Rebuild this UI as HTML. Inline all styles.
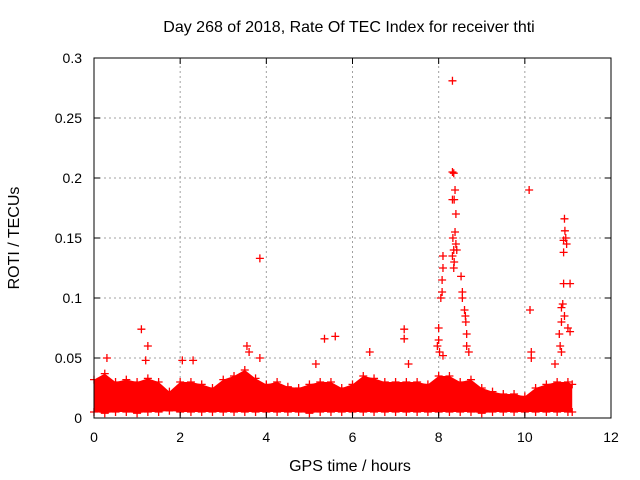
<!DOCTYPE html>
<html><head><meta charset="utf-8"><style>
html,body{margin:0;padding:0;background:#fff;}
svg{display:block;font-family:"Liberation Sans",sans-serif;}
</style></head><body>
<svg id="chart" width="640" height="480">
<text x="349" y="32" font-size="16" text-anchor="middle">Day 268 of 2018, Rate Of TEC Index for receiver thti</text>
<text x="350" y="471" font-size="16" text-anchor="middle">GPS time / hours</text>
<text transform="translate(19,238) rotate(-90)" font-size="16" text-anchor="middle">ROTI / TECUs</text>
<g id="grid"></g><g id="band"></g><g id="marks"></g><g id="axes"></g>
</svg>
<script>
const xTicks=[0,2,4,6,8,10,12];
const yTicks=[0,0.05,0.1,0.15,0.2,0.25,0.3];
const yTickLabels=["0","0.05","0.1","0.15","0.2","0.25","0.3"];
const bandTimes=[0,0.25,0.5,0.75,1,1.25,1.5,1.75,2,2.25,2.5,2.75,3,3.25,3.5,3.75,4,4.25,4.5,4.75,5,5.25,5.5,5.75,6,6.25,6.5,6.75,7,7.25,7.5,7.75,8,8.25,8.5,8.75,9,9.25,9.5,9.75,10,10.25,10.5,10.75,11,11.1];
const bandHigh=[0.032,0.037,0.03,0.032,0.03,0.033,0.03,0.022,0.03,0.03,0.028,0.025,0.032,0.035,0.04,0.033,0.028,0.03,0.026,0.025,0.028,0.03,0.03,0.025,0.028,0.035,0.033,0.03,0.03,0.03,0.03,0.028,0.035,0.035,0.03,0.032,0.025,0.022,0.02,0.02,0.018,0.025,0.028,0.03,0.03,0.028];
const bandLow=[0.005,0.004,0.005,0.005,0.004,0.005,0.005,0.006,0.005,0.005,0.005,0.005,0.005,0.005,0.005,0.005,0.005,0.005,0.005,0.005,0.004,0.005,0.005,0.005,0.005,0.005,0.005,0.005,0.005,0.005,0.005,0.005,0.005,0.005,0.005,0.005,0.004,0.005,0.005,0.005,0.005,0.005,0.005,0.005,0.005,0.005];
const outT=[0.3,1.1,1.25,1.2,2.05,2.3,3.55,3.6,3.85,3.85,5.15,5.35,5.6,6.4,7.2,7.2,7.3,7.97,8.0,8.0,8.05,8.08,8.1,8.1,8.08,8.02,8.1,8.32,8.32,8.35,8.38,8.32,8.36,8.4,8.33,8.38,8.35,8.4,8.32,8.36,8.42,8.35,8.52,8.55,8.55,8.6,8.62,8.63,8.65,8.65,8.7,10.1,10.12,10.15,10.15,10.92,10.93,10.9,10.95,10.97,10.9,10.9,11.05,10.88,10.85,10.85,10.92,10.8,10.82,10.85,11.0,11.05,10.7];
const outV=[0.05,0.074,0.06,0.048,0.048,0.048,0.06,0.055,0.133,0.05,0.045,0.066,0.068,0.055,0.074,0.066,0.045,0.06,0.065,0.075,0.1,0.105,0.125,0.135,0.115,0.055,0.052,0.281,0.205,0.204,0.19,0.182,0.182,0.17,0.15,0.155,0.14,0.145,0.135,0.13,0.14,0.125,0.118,0.105,0.1,0.09,0.085,0.08,0.07,0.06,0.055,0.19,0.09,0.055,0.05,0.166,0.156,0.148,0.15,0.145,0.138,0.112,0.112,0.095,0.092,0.08,0.085,0.07,0.06,0.055,0.075,0.072,0.045];
const X0=94,X1=611,Y0=418,Y1=58;
const sx=t=>X0+(t-0)/(12-0)*(X1-X0);
const sy=v=>Y0-(v-0)/(0.3-0)*(Y0-Y1);
const NS="http://www.w3.org/2000/svg";
function mk(tag,attrs,parent){const e=document.createElementNS(NS,tag);for(const k in attrs)e.setAttribute(k,attrs[k]);parent.appendChild(e);return e;}
const grid=document.getElementById('grid'),axes=document.getElementById('axes'),band=document.getElementById('band'),marks=document.getElementById('marks');
xTicks.forEach((t,i)=>{const x=sx(t);
 if(i>0&&i<xTicks.length-1){const g=mk('line',{x1:x,x2:x,y1:Y0,y2:Y1,stroke:'#a0a0a0','stroke-dasharray':'2,3'},grid);}
 const a=mk('line',{x1:x,x2:x,y1:Y0,y2:Y0-6,stroke:'#000'},axes);
 const b=mk('line',{x1:x,x2:x,y1:Y1,y2:Y1+6,stroke:'#000'},axes);
 const l=mk('text',{x:x,y:Y0+24,'font-size':14,'text-anchor':'middle'},axes);l.textContent=String(t);});
yTicks.forEach((v,i)=>{const y=sy(v);
 if(i>0&&i<yTicks.length-1){const g=mk('line',{x1:X0,x2:X1,y1:y,y2:y,stroke:'#a0a0a0','stroke-dasharray':'2,3'},grid);}
 const a=mk('line',{x1:X0,x2:X0+6,y1:y,y2:y,stroke:'#000'},axes);
 const b=mk('line',{x1:X1,x2:X1-6,y1:y,y2:y,stroke:'#000'},axes);
 const l=mk('text',{x:X0-12,y:y+5,'font-size':14,'text-anchor':'end'},axes);l.textContent=yTickLabels[i];});
const frame=mk('rect',{x:X0,y:Y1,width:X1-X0,height:Y0-Y1,fill:'none',stroke:'#000'},axes);

let d='M'+sx(bandTimes[0])+','+sy(bandLow[0]);
bandTimes.forEach((t,i)=>{d+=' L'+sx(t)+','+sy(bandLow[i]);});
for(let i=bandTimes.length-1;i>=0;i--)d+=' L'+sx(bandTimes[i])+','+sy(bandHigh[i]);
const bp=mk('path',{d:d+'Z',fill:'#ff0000'},band);

function plus(t,v,name){const x=sx(t),y=sy(v);const p=mk('path',{d:`M${x-4},${y}H${x+4}M${x},${y-4}V${y+4}`,stroke:'#ff0000','stroke-width':1.3},marks);
 }
bandTimes.forEach((t,i)=>{plus(t,bandHigh[i],'band-point');plus(t,bandLow[i],'band-point');});
outT.forEach((t,i)=>plus(t,outV[i],'roti-point'));
</script>
</body></html>
